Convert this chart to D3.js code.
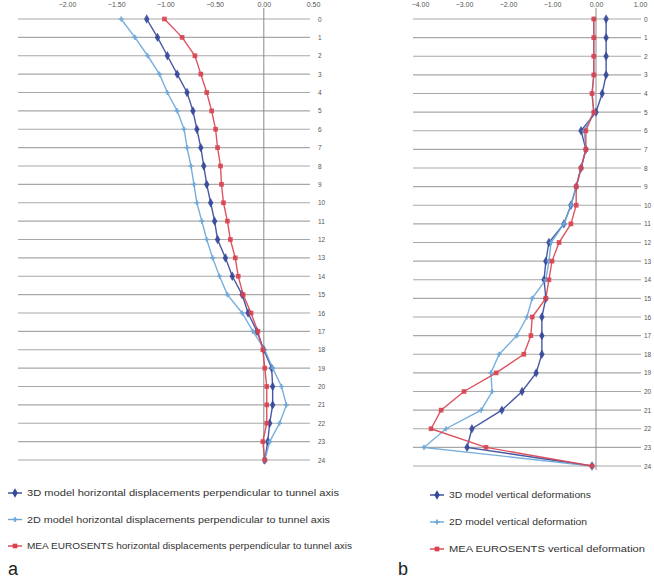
<!DOCTYPE html>
<html><head><meta charset="utf-8">
<script src="https://cdn.jsdelivr.net/npm/d3@7/dist/d3.min.js"></script>
<style>body{margin:0;background:#fff}svg{display:block}text{font-family:Arial,"Liberation Sans",sans-serif}</style>
</head><body><svg id="c" width="654" height="580"></svg>
<script>
const rows = d3.range(0, 25);
const rowLabels = rows.map(String);
const ticksA = [-2, -1.5, -1, -0.5, 0, 0.5];
const ticksB = [-4, -3, -2, -1, 0, 1];
// panel a: horizontal displacements
const a2D = [-1.45,-1.31,-1.18,-1.06,-0.98,-0.88,-0.81,-0.78,-0.74,-0.71,-0.68,-0.63,-0.58,-0.52,-0.45,-0.37,-0.22,-0.11,0.01,0.09,0.18,0.23,0.16,0.06,0.01];
const a3D = [-1.19,-1.08,-0.98,-0.88,-0.78,-0.72,-0.68,-0.64,-0.61,-0.58,-0.54,-0.50,-0.47,-0.39,-0.32,-0.22,-0.16,-0.07,0.00,0.08,0.09,0.09,0.06,0.04,0.01];
const aMEA = [-1.01,-0.83,-0.70,-0.64,-0.58,-0.53,-0.49,-0.47,-0.44,-0.43,-0.41,-0.37,-0.34,-0.29,-0.26,-0.21,-0.13,-0.06,-0.01,0.01,0.03,0.03,0.03,-0.01,0.01];
// panel b: vertical deformations
const b3D = [0.23,0.23,0.23,0.23,0.14,0.0,-0.34,-0.23,-0.34,-0.45,-0.57,-0.73,-1.07,-1.14,-1.18,-1.14,-1.23,-1.23,-1.23,-1.36,-1.68,-2.14,-2.82,-2.93,-0.09];
const b2D = [-0.05,-0.05,-0.05,-0.05,-0.09,-0.05,-0.27,-0.23,-0.34,-0.45,-0.57,-0.73,-1.02,-1.07,-1.14,-1.45,-1.57,-1.80,-2.20,-2.39,-2.36,-2.61,-3.41,-3.91,-0.09];
const bMEA = [-0.05,-0.05,-0.05,-0.05,-0.09,-0.05,-0.23,-0.23,-0.34,-0.45,-0.45,-0.57,-0.84,-1.00,-1.07,-1.14,-1.45,-1.48,-1.64,-2.27,-3.00,-3.52,-3.75,-2.50,-0.09];
const legendA = ["3D model horizontal displacements perpendicular to tunnel axis",
                 "2D model horizontal displacements perpendicular to tunnel axis",
                 "MEA EUROSENTS horizontal displacements perpendicular to tunnel axis"];
const legendB = ["3D model vertical deformations","2D model vertical deformation","MEA EUROSENTS vertical deformation"];

const C3 = "#34479a", C2 = "#6aa6d8", CM = "#d9414f";
const svg = d3.select("#c");

function panel(o){
  const g = svg.append("g");
  const x = d3.scaleLinear().domain(o.dom).range(o.xr);
  const y = d3.scaleLinear().domain([0,24]).range(o.yr);
  g.selectAll(".gl").data(rows).join("line")
    .attr("x1", o.gx[0]).attr("x2", o.gx[1])
    .attr("y1", d=>y(d)).attr("y2", d=>y(d))
    .attr("stroke", "#a8a8a8").attr("stroke-width", 1.2);
  g.append("line").attr("x1", x(0)).attr("x2", x(0)).attr("y1", 8).attr("y2", o.yr[1]+4)
    .attr("stroke", "#8a8a8a").attr("stroke-width", 1);
  const ax = g.append("g").attr("transform","translate(0,6)")
    .call(d3.axisTop(x).tickValues(o.ticks).tickFormat(d3.format(".2f")).tickSize(0));
  ax.select(".domain").remove();
  ax.selectAll("text").attr("font-size", 7).attr("fill", "#555").attr("dy", "0.6em");
  const ay = g.append("g").attr("transform",`translate(${o.lx},0)`)
    .call(d3.axisRight(y).tickValues(rows).tickFormat(d=>rowLabels[d]).tickSize(0));
  ay.select(".domain").remove();
  ay.selectAll("text").attr("font-size", 6.5).attr("fill", "#555").attr("x", 0);
  const line = d3.line().x(d=>x(d.v)).y(d=>y(d.r));
  o.series.forEach(s=>{
    const pts = s.vals.map((v,r)=>({v,r}));
    g.append("path").datum(pts).attr("d", line).attr("fill","none")
      .attr("stroke", s.color).attr("stroke-width", 1.4).attr("opacity", 0.9);
    g.selectAll(null).data(pts).join("path")
      .attr("transform", d=>`translate(${x(d.v)},${y(d.r)})`)
      .attr("d", d3.symbol().type(s.sym).size(s.size)())
      .attr("fill", s.color).attr("opacity", 0.9);
  });
  o.series.forEach((s,i)=>{
    const ly = o.legY + i*o.legDy;
    g.append("line").attr("x1", o.legX).attr("x2", o.legX+14).attr("y1", ly).attr("y2", ly)
      .attr("stroke", s.color).attr("stroke-width", 1.4);
    g.append("path").attr("transform", `translate(${o.legX+7},${ly})`)
      .attr("d", d3.symbol().type(s.sym).size(s.size)()).attr("fill", s.color);
    g.append("text").attr("x", o.legX+19).attr("y", ly).attr("dy","0.35em")
      .attr("font-size", 9.5).attr("fill", "#333")
      .attr("textLength", o.legW[i]).attr("lengthAdjust","spacingAndGlyphs")
      .text(o.legend[i]);
  });
  g.append("text").attr("x", o.tag[0]).attr("y", o.tag[1]).attr("font-size", 18)
    .attr("fill", "#222").text(o.tagText);
}

panel({dom:[-2,0.5], xr:[67,313], yr:[19,460], gx:[18,310], ticks:ticksA, lx:318,
  series:[{vals:a3D,color:C3,sym:d3.symbolDiamond,size:26},
          {vals:a2D,color:C2,sym:d3.symbolCross,size:14},
          {vals:aMEA,color:CM,sym:d3.symbolSquare,size:22}],
  legend:legendA, legW:[312,303,325], legX:8, legY:493, legDy:26.5, tag:[8,575], tagText:"a"});

panel({dom:[-4,1], xr:[420,640], yr:[19,466], gx:[413,641], ticks:ticksB, lx:644,
  series:[{vals:b3D,color:C3,sym:d3.symbolDiamond,size:26},
          {vals:b2D,color:C2,sym:d3.symbolCross,size:14},
          {vals:bMEA,color:CM,sym:d3.symbolSquare,size:22}],
  legend:legendB, legW:[142,138,196], legX:430, legY:495, legDy:27, tag:[398,575], tagText:"b"});
</script></body></html>
